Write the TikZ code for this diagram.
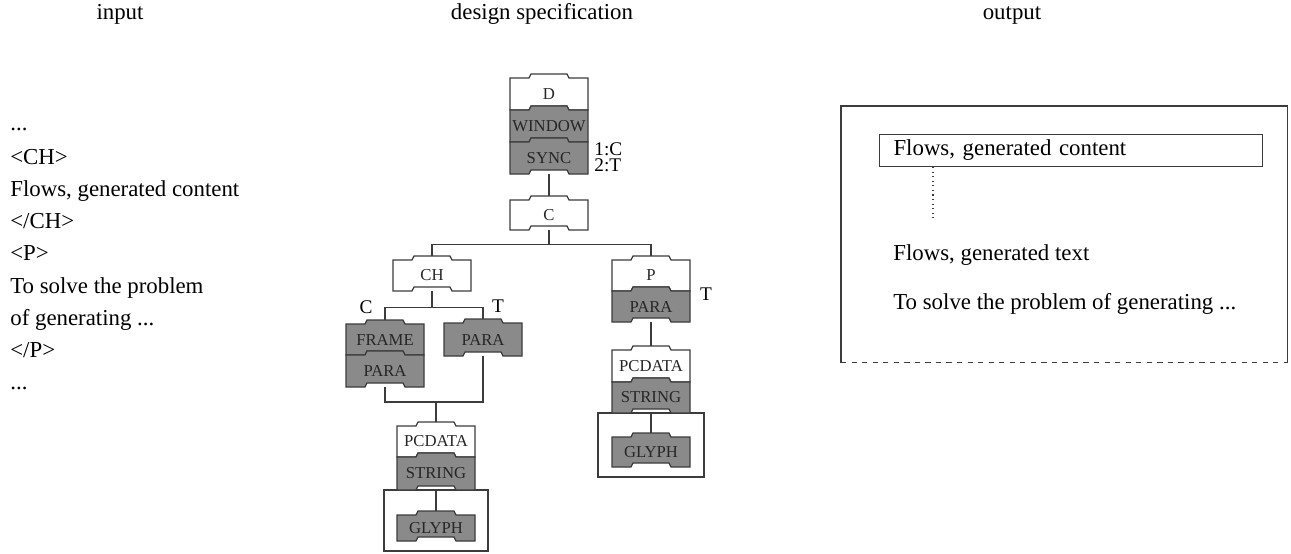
\documentclass[tikz,border=0pt]{standalone}
\usepackage{fontspec}
\setmainfont{Liberation Serif}
\usetikzlibrary{positioning, backgrounds}
\definecolor{Ink}{HTML}{3C3C3C}
\definecolor{Shade}{HTML}{8A8A8A}
\tikzset{
    blockline/.style={draw=Ink, line width=0.7pt},
    blocktext/.style={inner sep=0pt, minimum width=1.56cm, font=\fontsize{9.5}{11}\selectfont, text=black!85},
    wire/.style={draw=Ink, line width=0.6pt},
    framebox/.style={draw=Ink, line width=0.6pt, inner sep=0pt},
    tag/.style={font=\fontsize{11}{12}\selectfont, inner sep=0pt},
    plain/.style={font=\fontsize{13}{15}\selectfont, inner sep=0pt},
}
% notched block: name, fill, centre x, top, bottom, label
\newcommand{\tabblock}[6]{%
  \filldraw[blockline, fill=#2] (#3-39,#5) -- (#3-39,#4) -- (#3-20,#4) -- (#3-18,#4-4) -- (#3+18,#4-4) -- (#3+20,#4) -- (#3+39,#4) -- (#3+39,#5) -- (#3+20,#5) -- (#3+18,#5-4) -- (#3-18,#5-4) -- (#3-20,#5) -- cycle;
  \pgfmathsetmacro\blockh{(#5-#4)*0.02}
  \node[blocktext, minimum height=\blockh cm] (#1) at (#3,{(#4+#5)/2}) {#6};
}
\begin{document}
\begin{tikzpicture}[x=0.02cm, y=-0.02cm]
    \useasboundingbox (0,0) rectangle (1291,554);

    % Titoli
    \node[plain, anchor=base] (hin) at (120,20) {input};
    \node[plain, anchor=base] (hspec) at (542,20) {design specification};
    \node[plain, anchor=base] (hout) at (1012,20) {output};

    % Input
    \node[plain, anchor=base west] (in0) at (10,131) {...};
    \node[plain, anchor=base west] (in1) at (10,164) {<CH>};
    \node[plain, anchor=base west] (in2) at (10,196) {Flows, generated content};
    \node[plain, anchor=base west] (in3) at (10,228) {</CH>};
    \node[plain, anchor=base west] (in4) at (10,260) {<P>};
    \node[plain, anchor=base west] (in5) at (10,293) {To solve the problem};
    \node[plain, anchor=base west] (in6) at (10,325) {of generating ...};
    \node[plain, anchor=base west] (in7) at (10,357) {</P>};
    \node[plain, anchor=base west] (in8) at (10,389) {...};

    % Specifica: radice
    \tabblock{d}{white}{549}{78}{110}{D}
    \tabblock{window}{Shade}{549}{110}{142}{WINDOW}
    \tabblock{sync}{Shade}{549}{142}{174}{SYNC}
    \node[tag, anchor=base west] (sel1) at (594,155) {1:C};
    \node[tag, anchor=base west] (sel2) at (594,172) {2:T};
    \tabblock{c}{white}{549}{200}{230}{C}

    % Ramo CH
    \tabblock{ch}{white}{432}{260}{291}{CH}
    \node[tag] (selc) at (366,307) {C};
    \node[tag] (selt) at (498,306) {T};
    \tabblock{frame}{Shade}{385}{324}{355}{FRAME}
    \tabblock{parac}{Shade}{385}{355}{387}{PARA}
    \tabblock{parat}{Shade}{483}{323}{356}{PARA}
    \node[framebox, minimum width=2.08cm, minimum height=1.22cm] (glyphboxa) at (436,520.5) {};
    \tabblock{pcdataa}{white}{436}{426}{457}{PCDATA}
    \tabblock{stringa}{Shade}{436}{457}{490}{STRING}
    \tabblock{glypha}{Shade}{436}{515}{541}{GLYPH}

    % Ramo P
    \tabblock{p}{white}{651}{260}{291}{P}
    \tabblock{parap}{Shade}{651}{291}{322}{PARA}
    \node[tag] (selp) at (706,294) {T};
    \node[framebox, minimum width=2.12cm, minimum height=1.28cm] (glyphboxb) at (651,445) {};
    \tabblock{pcdatab}{white}{651}{350}{382}{PCDATA}
    \tabblock{stringb}{Shade}{651}{382}{413}{STRING}
    \tabblock{glyphb}{Shade}{651}{437}{467}{GLYPH}

    % Collegamenti
    \begin{scope}[on background layer]
        \draw[wire] (sync.south) -- (c.north);
        \draw[wire] (c.south) -- ++(0,14) coordinate (busc) -| (ch.north);
        \draw[wire] (busc) -| (p.north);
        \draw[wire] (ch.south) -- ++(0,16) coordinate (busch) -| (frame.north);
        \draw[wire] (busch) -| (parat.north);
        \coordinate (busj) at (436,402);
        \draw[wire] (parac.south) |- (busj) -| (parat.south);
        \draw[wire] (busj) -- (pcdataa.north);
        \draw[wire] (stringa.south) -- (glypha.north);
        \draw[wire] (parap.south) -- (pcdatab.north);
        \draw[wire] (stringb.south) -- (glyphb.north);
    \end{scope}

    % Output
    \node[minimum width=8.92cm, minimum height=5.12cm, anchor=north west, inner sep=0pt] (outpage) at (841,106) {};
    \draw[wire] (outpage.south west) -- (outpage.north west) -- (outpage.north east) -- (outpage.south east);
    \draw[wire, dashed] (outpage.south west) -- (outpage.south east);
    \node[framebox, anchor=north west, minimum width=7.66cm, minimum height=0.64cm, inner xsep=0.28cm, text width=7.1cm, align=left, font=\fontsize{13}{15}\selectfont] (chout) at (879,134) {Flows, generated content};
    \coordinate (dotend) at (933,218);
    \draw[wire, dotted] (chout.south -| dotend) -- (dotend);
    \node[plain, anchor=west] (outtext) at (893,255) {Flows, generated text};
    \node[plain, anchor=west] (outpara) at (893,304) {To solve the problem of generating ...};
\end{tikzpicture}
\end{document}
